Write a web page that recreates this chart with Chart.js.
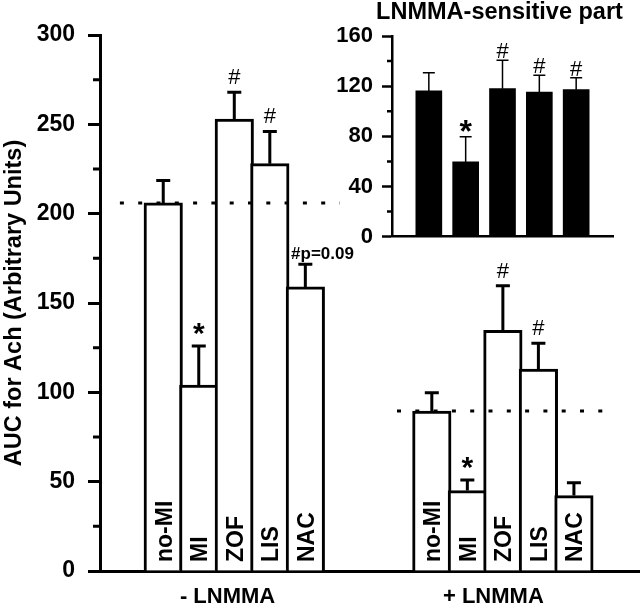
<!DOCTYPE html>
<html>
<head>
<meta charset="utf-8">
<script src="https://cdn.jsdelivr.net/npm/chart.js@4"></script>
<style>
  html, body { margin: 0; padding: 0; background: #fff; }
  #wrap { position: relative; width: 640px; height: 612px; }
  #main { position: absolute; left: 0; top: 0; }
  #inset { position: absolute; left: 320px; top: 0; }
</style>
</head>
<body>
<div id="wrap">
  <canvas id="main" width="640" height="612"></canvas>
  <canvas id="inset" width="320" height="260"></canvas>
</div>
<script>
/* ---------- dados ---------- */
const groups = ['- LNMMA', '+ LNMMA'];
const treatments = ['no-MI', 'MI', 'ZOF', 'LIS', 'NAC'];
const aucMinus = [206, 104, 253, 228, 159];
const errMinus = [12.5, 22, 15, 18, 12.7];
const aucPlus = [89.5, 45, 134.7, 113, 42.2];
const errPlus = [10.3, 6, 25, 14.5, 7.2];
const marksMinus = ['', '*', '#', '#', '#p=0.09'];
const marksPlus = ['', '*', '#', '#', ''];
const insetTitle = 'LNMMA-sensitive part';
const sensitive = [116.2, 59.6, 118, 115.2, 117.2];
const errSensitive = [14.6, 20, 22.7, 13.5, 9.6];
const marksSensitive = ['', '*', '#', '#', '#'];
const yTitle = 'AUC for Ach (Arbitrary Units)';

/* ---------- layout ---------- */
const FONT = '"Liberation Sans", Arial, Helvetica, sans-serif';
const G_START = [1.78, 9.34];              // x do 1º bar de cada grupo (unidades de barra)
const REF_SPAN = [[-1.22, 4.97], [-0.98, 5.10]];  // extensão da linha tracejada
const X_MAX = 15.2;

function drawMark(ctx, text, x, bottom, opts) {
    const star = text === '*';
    const isLong = text.length > 1;
    ctx.save();
    ctx.fillStyle = '#000';
    ctx.textBaseline = 'alphabetic';
    if (star) {
        ctx.font = 'bold ' + opts.starSize + 'px ' + FONT;
        ctx.textAlign = 'center';
        const m = ctx.measureText(text);
        ctx.fillText(text, x, bottom - opts.starGap - m.actualBoundingBoxDescent);
    } else if (isLong) {
        ctx.font = 'bold 17px ' + FONT;
        ctx.textAlign = 'left';
        ctx.fillText(text, opts.leftX, bottom - 5);
    } else {
        ctx.font = '22px ' + FONT;
        ctx.textAlign = 'center';
        const m = ctx.measureText(text);
        ctx.fillText(text, x, bottom - opts.hashGap - m.actualBoundingBoxDescent);
    }
    ctx.restore();
}

function drawErr(ctx, x, yBase, yTop, lw, cap) {
    ctx.save();
    ctx.strokeStyle = '#000';
    ctx.lineWidth = lw;
    ctx.beginPath();
    ctx.moveTo(x, yBase);
    ctx.lineTo(x, yTop);
    ctx.moveTo(x - cap / 2, yTop);
    ctx.lineTo(x + cap / 2, yTop);
    ctx.stroke();
    ctx.restore();
}

function minorTicks(ctx, scale, area, from, step, to, len, lw) {
    ctx.save();
    ctx.strokeStyle = '#000';
    ctx.lineWidth = lw;
    ctx.beginPath();
    for (let v = from; v <= to; v += step) {
        const y = scale.getPixelForValue(v);
        ctx.moveTo(area.left - len, y);
        ctx.lineTo(area.left, y);
    }
    ctx.stroke();
    ctx.restore();
}

/* ---------- gráfico principal ---------- */
const allVals = [aucMinus, aucPlus];
const allErrs = [errMinus, errPlus];
const allMarks = [marksMinus, marksPlus];
const points = [];
allVals.forEach((vals, g) => vals.forEach((v, i) => points.push({ x: G_START[g] + i, y: v })));

const mainDecor = {
    id: 'mainDecor',
    afterDatasetsDraw(chart) {
        const ctx = chart.ctx;
        const xs = chart.scales.x, ys = chart.scales.y;
        const area = chart.chartArea;
        const bars = chart.getDatasetMeta(0).data;

        minorTicks(ctx, ys, area, 25, 50, 275, 7, 3);

        allVals.forEach((vals, g) => {
            vals.forEach((v, i) => {
                const bar = bars[g * vals.length + i];
                const yTop = ys.getPixelForValue(v + allErrs[g][i]);
                drawErr(ctx, bar.x, ys.getPixelForValue(v), yTop, 3, 14);
                if (allMarks[g][i]) {
                    drawMark(ctx, allMarks[g][i], bar.x, yTop, {
                        starSize: 30, starGap: 11, hashGap: 8,
                        leftX: bar.x - bar.width / 2 + 5
                    });
                }
                // rótulo dentro da barra
                ctx.save();
                ctx.font = 'bold 23px ' + FONT;
                ctx.fillStyle = '#000';
                ctx.textAlign = 'left';
                ctx.textBaseline = 'alphabetic';
                const capH = ctx.measureText('M').actualBoundingBoxAscent;
                ctx.translate(bar.x + capH / 2, area.bottom - 9);
                ctx.rotate(-Math.PI / 2);
                ctx.fillText(treatments[i], 0, 0);
                ctx.restore();
            });

            // linha tracejada no nível do no-MI
            const yRef = ys.getPixelForValue(vals[0]);
            ctx.save();
            ctx.strokeStyle = '#000';
            ctx.lineWidth = 3;
            ctx.setLineDash([4, 14.3]);
            ctx.beginPath();
            ctx.moveTo(xs.getPixelForValue(G_START[g] + REF_SPAN[g][0]), yRef);
            ctx.lineTo(xs.getPixelForValue(G_START[g] + REF_SPAN[g][1]), yRef);
            ctx.stroke();
            ctx.restore();

            // rótulo do grupo
            ctx.save();
            ctx.font = 'bold 22px ' + FONT;
            ctx.fillStyle = '#000';
            ctx.textAlign = 'left';
            ctx.textBaseline = 'alphabetic';
            const label = groups[g];
            const prefix = label.slice(0, label.indexOf(' ') + 1);
            const pw = ctx.measureText(prefix).width;
            const fw = ctx.measureText(label).width;
            const cx = xs.getPixelForValue(G_START[g] + (vals.length - 1) / 2);
            ctx.fillText(label, cx - (fw - pw) / 2 - pw, 603);
            ctx.restore();
        });
    }
};

new Chart(document.getElementById('main'), {
    type: 'bar',
    data: {
        datasets: [{
            data: points,
            backgroundColor: '#fff',
            borderColor: '#000',
            borderWidth: 3,
            borderSkipped: 'bottom',
            barThickness: 38.5
        }]
    },
    options: {
        responsive: false,
        animation: false,
        events: [],
        layout: { padding: { top: 35, right: 0, bottom: 0, left: 0 } },
        plugins: { legend: { display: false }, tooltip: { enabled: false } },
        scales: {
            x: {
                type: 'linear',
                offset: false,
                min: 0,
                max: X_MAX,
                ticks: { display: false },
                grid: { display: false },
                border: { display: true, color: '#000', width: 3 },
                afterFit: s => { s.height = 41; }
            },
            y: {
                min: 0,
                max: 300,
                ticks: {
                    stepSize: 25,
                    padding: 13,
                    color: '#000',
                    font: { family: FONT, size: 23, weight: 'bold' },
                    callback: v => (v % 50 === 0 ? v : '')
                },
                grid: {
                    drawOnChartArea: false,
                    tickLength: 12,
                    tickWidth: 3,
                    tickColor: c => (c.tick && c.tick.value % 50 === 0 ? '#000' : 'rgba(0,0,0,0)')
                },
                border: { display: true, color: '#000', width: 3 },
                title: {
                    display: true,
                    text: yTitle,
                    color: '#000',
                    padding: 0,
                    font: { family: FONT, size: 23.5, weight: 'bold' }
                },
                afterFit: s => { s.width = 100; }
            }
        }
    },
    plugins: [mainDecor]
});

/* ---------- inset: parte sensível ao LNMMA ---------- */
const insetDecor = {
    id: 'insetDecor',
    afterDatasetsDraw(chart) {
        const ctx = chart.ctx;
        const ys = chart.scales.y;
        const area = chart.chartArea;
        const bars = chart.getDatasetMeta(0).data;

        minorTicks(ctx, ys, area, 20, 40, 140, 5, 2.5);

        sensitive.forEach((v, i) => {
            const bar = bars[i];
            const yTop = ys.getPixelForValue(v + errSensitive[i]);
            drawErr(ctx, bar.x, ys.getPixelForValue(v), yTop, 1.5, 12);
            if (marksSensitive[i]) {
                drawMark(ctx, marksSensitive[i], bar.x, yTop, {
                    starSize: 32, starGap: 5, hashGap: 2, leftX: bar.x
                });
            }
        });

        ctx.save();
        ctx.font = 'bold 23.5px ' + FONT;
        ctx.fillStyle = '#000';
        ctx.textAlign = 'center';
        ctx.textBaseline = 'alphabetic';
        ctx.fillText(insetTitle, (area.left + area.right) / 2 - 3, 19);
        ctx.restore();
    }
};

new Chart(document.getElementById('inset'), {
    type: 'bar',
    data: {
        datasets: [{
            data: sensitive.map((v, i) => ({ x: i + 1, y: v })),
            backgroundColor: '#000',
            borderWidth: 0,
            barThickness: 26
        }]
    },
    options: {
        responsive: false,
        animation: false,
        events: [],
        layout: { padding: { top: 36, right: 27, bottom: 0, left: 0 } },
        plugins: { legend: { display: false }, tooltip: { enabled: false } },
        scales: {
            x: {
                type: 'linear',
                offset: false,
                min: 0,
                max: 6,
                ticks: { display: false },
                grid: { display: false },
                border: { display: true, color: '#000', width: 2.5 },
                afterFit: s => { s.height = 23.3; }
            },
            y: {
                min: 0,
                max: 160,
                ticks: {
                    stepSize: 20,
                    padding: 9,
                    color: '#000',
                    font: { family: FONT, size: 22, weight: 'bold' },
                    callback: v => (v % 40 === 0 ? v : '')
                },
                grid: {
                    drawOnChartArea: false,
                    tickLength: 10,
                    tickWidth: 2.5,
                    tickColor: c => (c.tick && c.tick.value % 40 === 0 ? '#000' : 'rgba(0,0,0,0)')
                },
                border: { display: true, color: '#000', width: 2.5 },
                afterFit: s => { s.width = 72; }
            }
        }
    },
    plugins: [insetDecor]
});
</script>
</body>
</html>
